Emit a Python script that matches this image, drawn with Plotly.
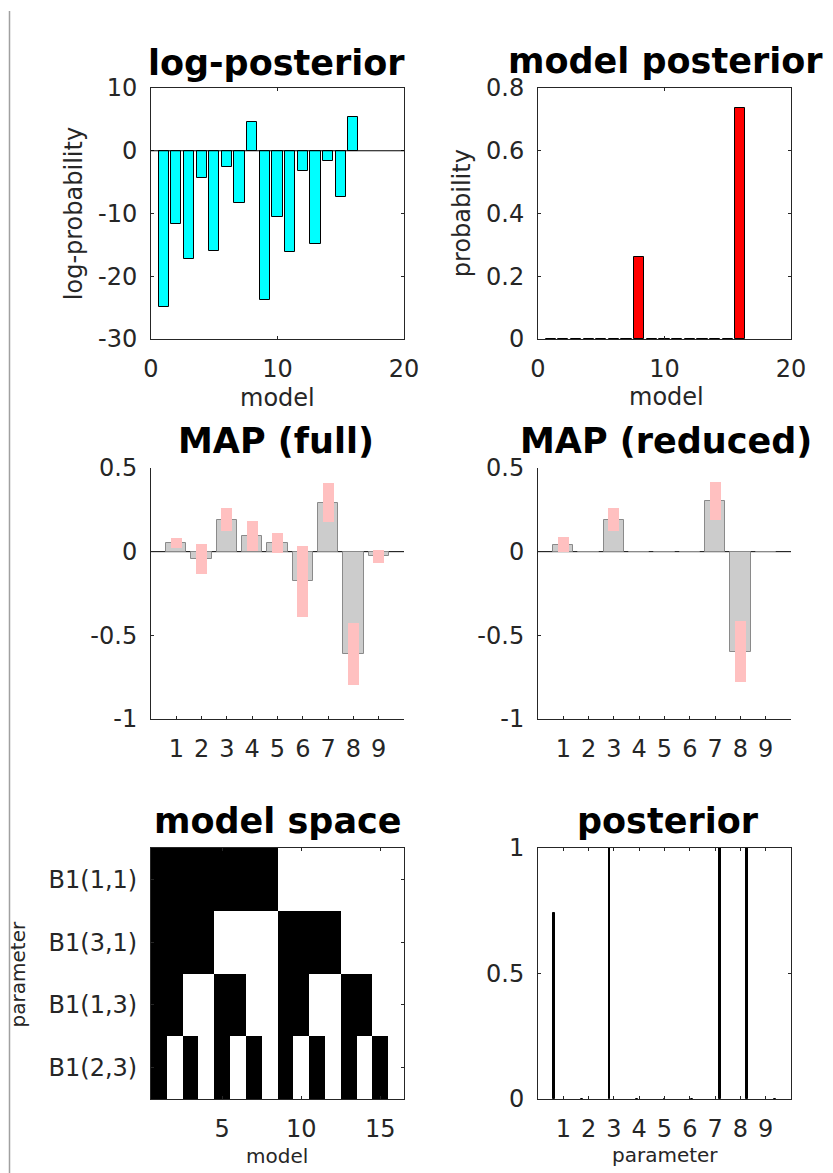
import numpy as np
import plotly.graph_objects as go

W, H = 833, 1173
FONT = "DejaVu Sans"
INK = "#262626"

# ---------------- data ----------------
models = list(range(1, 17))
log_post = [-24.9, -11.6, -17.2, -4.4, -15.9, -2.6, -8.4, 4.6,
            -23.8, -10.6, -16.1, -3.3, -14.8, -1.6, -7.3, 5.4]
model_post = [0, 0, 0, 0.001, 0, 0, 0.001, 0.26,
              0, 0.001, 0, 0, 0, 0, 0.001, 0.736]

params = list(range(1, 10))
map_full = [0.052, -0.044, 0.192, 0.092, 0.052, -0.178, 0.292, -0.61, -0.028]
ci_full = [0.028, 0.091, 0.066, 0.09, 0.062, 0.211, 0.116, 0.184, 0.037]
map_reduced = [0.042, 0, 0.192, 0, 0, 0, 0.302, -0.598, 0]
ci_reduced = [0.045, 0, 0.066, 0, 0, 0, 0.112, 0.182, 0]
param_post = [0.74, 0, 1, 0, 0, 0, 1, 1, 0]

param_names = ["B1(1,1)", "B1(3,1)", "B1(1,3)", "B1(2,3)"]
in_model = [
    [1, 1, 1, 1, 1, 1, 1, 1, 0, 0, 0, 0, 0, 0, 0, 0],
    [1, 1, 1, 1, 0, 0, 0, 0, 1, 1, 1, 1, 0, 0, 0, 0],
    [1, 1, 0, 0, 1, 1, 0, 0, 1, 1, 0, 0, 1, 1, 0, 0],
    [1, 0, 1, 0, 1, 0, 1, 0, 1, 0, 1, 0, 1, 0, 1, 0],
]

model_ticks = [0, 10, 20]
model_ticklabels = ["0", "10", "20"]
logp_ticks = [-30, -20, -10, 0, 10]
logp_ticklabels = ["-30", "-20", "-10", "0", "10"]
prob_ticks = [0, 0.2, 0.4, 0.6, 0.8]
prob_ticklabels = ["0", "0.2", "0.4", "0.6", "0.8"]
map_ticks = [-1, -0.5, 0, 0.5]
map_ticklabels = ["-1", "-0.5", "0", "0.5"]
space_ticks = [5, 10, 15]
post_ticks = [0, 0.5, 1]
post_ticklabels = ["0", "0.5", "1"]

# ---------------- layout helpers ----------------
def xd(left, right):
    return [left / W, right / W]

def yd(top, bottom):
    return [1 - bottom / H, 1 - top / H]

def px(x):
    return x / W

def py(y):
    return 1 - y / H

tickfont = dict(family=FONT, size=24, color=INK)

def axis(domain, rng, tickvals, ticktext, box=True, standoff=8, **kw):
    d = dict(domain=domain, range=rng, tickvals=tickvals, ticktext=ticktext,
             showline=True, linecolor=INK, linewidth=1,
             mirror="ticks" if box else False,
             ticks="inside", ticklen=3, tickcolor=INK, tickwidth=1,
             tickfont=tickfont, showgrid=False, zeroline=False,
             ticklabelstandoff=standoff, automargin=False, fixedrange=True)
    d.update(kw)
    return d

fig = go.Figure()

# log-posterior
fig.add_trace(go.Bar(x=models, y=log_post, width=0.8,
                     marker=dict(color="#00FFFF", line=dict(color="black", width=1)),
                     xaxis="x", yaxis="y"))
# model posterior
fig.add_trace(go.Bar(x=models, y=model_post, width=0.8,
                     marker=dict(color="#FF0000", line=dict(color="black", width=1)),
                     xaxis="x2", yaxis="y2"))

# MAP panels: grey estimates with pink credible intervals on top
for mean, ci, xa, ya in [(map_full, ci_full, "x3", "y3"),
                         (map_reduced, ci_reduced, "x4", "y4")]:
    mean = np.array(mean)
    ci = np.array(ci)
    fig.add_trace(go.Bar(x=params, y=mean, width=0.8,
                         marker=dict(color="#CCCCCC", line=dict(color="#8A8A8A", width=1)),
                         xaxis=xa, yaxis=ya))
    keep = ci > 0
    fig.add_trace(go.Bar(x=np.array(params)[keep], y=2 * ci[keep], base=(mean - ci)[keep],
                         width=0.44, marker=dict(color="#FFC0C0", line=dict(width=0)),
                         xaxis=xa, yaxis=ya))

# model space
fig.add_trace(go.Heatmap(x=models, y=[1, 2, 3, 4], z=in_model, zmin=0, zmax=1,
                         colorscale=[[0, "white"], [1, "black"]], showscale=False,
                         xaxis="x5", yaxis="y5"))

# parameter posterior, drawn as grouped bars of a diagonal matrix
n = len(params)
group_width = min(0.8, n / (n + 1.5))
offsets = (np.array(params) - (n + 1) / 2) * group_width / n
fig.add_trace(go.Bar(x=np.array(params) + offsets, y=param_post,
                     width=group_width / n * 0.8,
                     marker=dict(color="black", line=dict(color="black", width=1)),
                     xaxis="x6", yaxis="y6"))

L1, R1 = 151, 404
L2, R2 = 538, 791
T1, B1 = 88, 339
T2, B2 = 468, 719
T3, B3 = 848, 1099

fig.update_layout(
    width=W, height=H, margin=dict(l=0, r=0, t=0, b=0, autoexpand=False),
    paper_bgcolor="white", plot_bgcolor="white",
    showlegend=False, barmode="overlay", bargap=0,
    font=dict(family=FONT, color=INK),
    xaxis=axis(xd(L1, R1), [0, 20], model_ticks, model_ticklabels, anchor="y"),
    yaxis=axis(yd(T1, B1), [-30, 10], logp_ticks, logp_ticklabels, anchor="x"),
    xaxis2=axis(xd(L2, R2), [0, 20], model_ticks, model_ticklabels, anchor="y2"),
    yaxis2=axis(yd(T1, B1), [0, 0.8], prob_ticks, prob_ticklabels, anchor="x2"),
    xaxis3=axis(xd(L1, R1), [0, 10], params, [str(p) for p in params], box=False, anchor="y3"),
    yaxis3=axis(yd(T2, B2), [-1, 0.5], map_ticks, map_ticklabels, box=False, anchor="x3"),
    xaxis4=axis(xd(L2, R2), [0, 10], params, [str(p) for p in params], box=False, anchor="y4"),
    yaxis4=axis(yd(T2, B2), [-1, 0.5], map_ticks, map_ticklabels, box=False, anchor="x4"),
    xaxis5=axis(xd(L1, R1), [0.5, 16.5], space_ticks, [str(t) for t in space_ticks], anchor="y5"),
    yaxis5=axis(yd(T3, B3), [4.5, 0.5], [1, 2, 3, 4], param_names, anchor="x5"),
    xaxis6=axis(xd(L2, R2), [0, 10], params, [str(p) for p in params], anchor="y6"),
    yaxis6=axis(yd(T3, B3), [0, 1], post_ticks, post_ticklabels, anchor="x6"),
)

# zero baselines
for xa, ya, x1 in [("x", "y", 20), ("x3", "y3", 10), ("x4", "y4", 10)]:
    fig.add_shape(type="line", xref=xa, yref=ya, x0=0, x1=x1, y0=0, y1=0,
                  line=dict(color="black", width=1), layer="below" if xa != "x" else "above")

# left separator line
fig.add_shape(type="line", xref="paper", yref="paper", x0=px(9.5), x1=px(9.5),
              y0=0, y1=py(11), line=dict(color="#A0A0A0", width=1.5))

def title(text, x, baseline):
    fig.add_annotation(text="<b>%s</b>" % text, x=px(x), y=py(baseline - 0.346 * 35),
                       xref="paper", yref="paper", xanchor="center", yanchor="middle",
                       showarrow=False, font=dict(family=FONT, size=35, color="black"))

def label(text, x, y, size, angle=0):
    fig.add_annotation(text=text, x=px(x), y=py(y), xref="paper", yref="paper",
                       xanchor="center", yanchor="middle", textangle=angle,
                       showarrow=False, font=dict(family=FONT, size=size, color=INK))

title("log-posterior", 276, 75)
title("model posterior", 665, 73)
title("MAP (full)", 276, 453)
title("MAP (reduced)", 666, 453)
title("model space", 277, 833)
title("posterior", 668, 833)

label("model", 277, 406 - 0.346 * 24, 24)
label("model", 666, 405 - 0.346 * 24, 24)
label("log-probability", 82 - 0.346 * 24, 213.5, 24, -90)
label("probability", 470 - 0.346 * 24, 213.5, 24, -90)
label("model", 277, 1163 - 0.346 * 20, 20)
label("parameter", 665, 1162 - 0.346 * 20, 20)
label("parameter", 25.3 - 0.346 * 20, 974, 20, -90)

fig.write_html("out.html")
